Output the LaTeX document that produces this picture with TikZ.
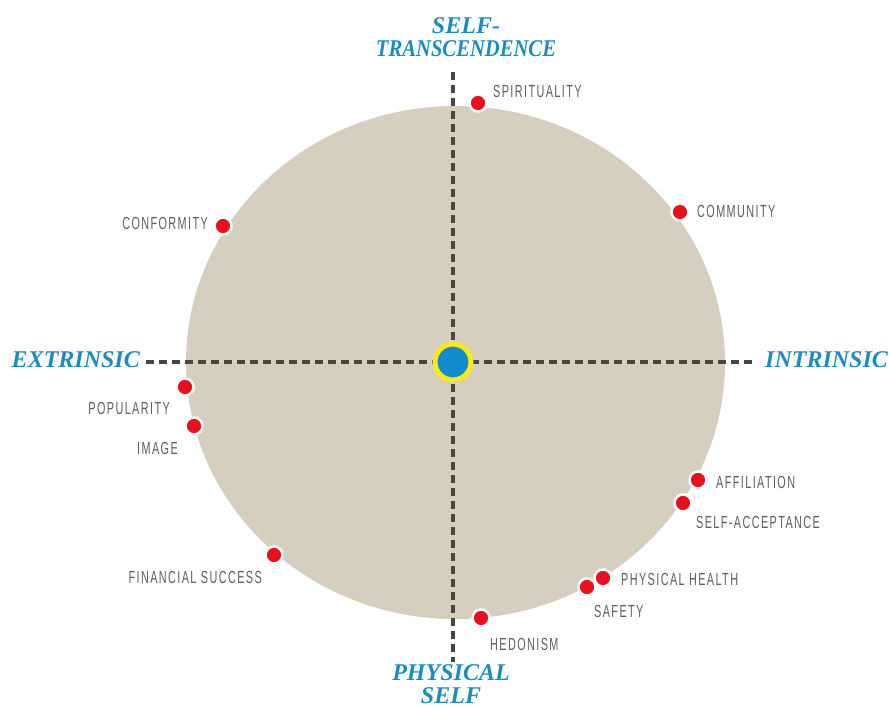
\documentclass[tikz,border=0pt]{standalone}
\usepackage{fontspec}
\setmainfont{Liberation Serif}
\newfontfamily\narrowserif[FakeStretch=0.86]{Liberation Serif}
\newfontfamily\lblfont[FakeStretch=0.62,LetterSpace=8]{Liberation Sans}
\usetikzlibrary{positioning,shapes.geometric}
\definecolor{beige}{RGB}{214,207,191}
\definecolor{axisblue}{RGB}{26,140,192}
\definecolor{dotred}{RGB}{232,16,28}
\definecolor{dashgray}{RGB}{70,70,66}
\definecolor{lblgray}{RGB}{95,95,95}
\definecolor{ctrblue}{RGB}{18,140,205}
\definecolor{ctryellow}{RGB}{250,235,20}
\begin{document}
\begin{tikzpicture}[x=1pt,y=-1pt,
  axislbl/.style={font=\fontsize{24}{23}\selectfont\bfseries\itshape, text=axisblue, inner sep=0pt, align=center},
  valdot/.style={circle, fill=dotred, draw=white, line width=2.5pt, minimum size=17pt, inner sep=0pt},
  vallbl/.style={font=\lblfont\fontsize{17.5}{18}\selectfont, text=lblgray, inner sep=0pt},
  axisline/.style={draw=dashgray, line width=4pt, dash pattern=on 8pt off 5pt}]
\useasboundingbox (0,0) rectangle (890,709);
\fill[white] (0,0) rectangle (890,709);
% main disc
\node[ellipse, fill=beige, minimum width=539pt, minimum height=513pt, inner sep=0pt] (disc) at (455.5,362.5) {};
% axis labels
\node[axislbl, anchor=east] (ext) at (140,360) {EXTRINSIC};
\node[axislbl, anchor=west] (int) at (765,360) {INTRINSIC};
\node[axislbl, anchor=south] (top) at (466,57) {SELF-\\{\narrowserif TRANSCENDENCE}};
\node[axislbl, anchor=north] (bot) at (451,664) {PHYSICAL\\SELF};
% axis ends
\coordinate (hL) at (146,362);
\coordinate (hR) at (756,362);
\coordinate (vT) at (453,72);
\coordinate (vB) at (453,662);
\draw[axisline] (hL) -- (hR);
\draw[axisline] (vT) -- (vB);
% centre
\node[circle, fill=ctrblue, draw=ctryellow, line width=5pt, minimum size=36pt, inner sep=0pt] (ctr) at (453,362) {};
% value dots
\node[valdot] (spi) at (478,103) {};
\node[valdot] (com) at (680,212) {};
\node[valdot] (con) at (223,226) {};
\node[valdot] (pop) at (185,387) {};
\node[valdot] (img) at (194,426) {};
\node[valdot] (aff) at (698,480) {};
\node[valdot] (sac) at (683,503) {};
\node[valdot] (phy) at (603,578) {};
\node[valdot] (saf) at (587,587) {};
\node[valdot] (hed) at (481,618) {};
\node[valdot] (fin) at (274,555) {};
% value labels
\node[vallbl, anchor=base west] (spiL) at (493,97) {SPIRITUALITY};
\node[vallbl, anchor=base west] (comL) at (697,217) {COMMUNITY};
\node[vallbl, anchor=base east] (conL) at (208,229) {CONFORMITY};
\node[vallbl, anchor=base east] (popL) at (170,414) {POPULARITY};
\node[vallbl, anchor=base east] (imgL) at (178,454) {IMAGE};
\node[vallbl, anchor=base west] (affL) at (716,488) {AFFILIATION};
\node[vallbl, anchor=base west] (sacL) at (696,528) {SELF-ACCEPTANCE};
\node[vallbl, anchor=base west] (phyL) at (621,585) {PHYSICAL HEALTH};
\node[vallbl, anchor=base west] (safL) at (594,617) {SAFETY};
\node[vallbl, anchor=base west] (hedL) at (490,650) {HEDONISM};
\node[vallbl, anchor=base east] (finL) at (262,583) {FINANCIAL SUCCESS};
\end{tikzpicture}
\end{document}
